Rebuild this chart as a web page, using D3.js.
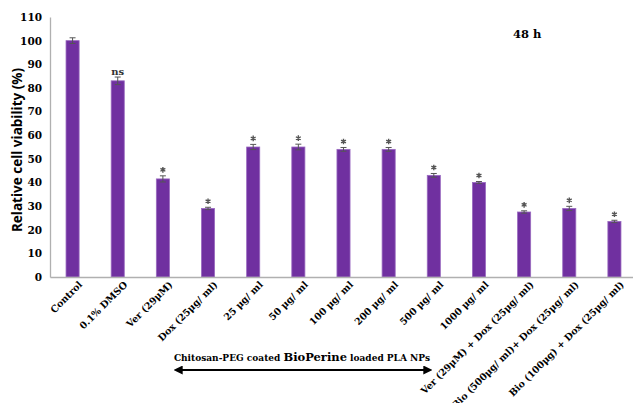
<!DOCTYPE html>
<html>
<head>
<meta charset="utf-8">
<script src="https://cdn.jsdelivr.net/npm/d3@7"></script>
<style>
  html, body { margin: 0; padding: 0; background: #fff; }
  svg { display: block; }
</style>
</head>
<body>
<svg id="chart" width="633" height="403"></svg>
<script>
// Treatment groups along the x axis
const categories = [
  "Control", "0.1% DMSO", "Ver (29μM)", "Dox (25μg/ ml)",
  "25 μg/ ml", "50 μg/ ml", "100 μg/ ml", "200  μg/ ml",
  "500 μg/ ml", "1000 μg/ ml",
  "Ver  (29μM)  +  Dox (25μg/ ml)",
  "Bio (500μg/ ml)+ Dox (25μg/ ml)",
  "Bio (100μg) + Dox (25μg/ ml)"
];
// Mean relative viability (%) at 48 h
const viability = [100, 83, 41.5, 29, 55, 55, 54, 54, 43, 40, 27.5, 29, 23.5];
// Standard deviations
const errors = [1.2, 1.6, 1.3, 0.5, 1.1, 1.2, 0.8, 0.8, 0.8, 0.4, 0.5, 0.9, 0.5];
// Significance markers
const marks = ["", "ns", "*", "*", "*", "*", "*", "*", "*", "*", "*", "*", "*"];
const yTicks = [0, 10, 20, 30, 40, 50, 60, 70, 80, 90, 100, 110];

const svg = d3.select("#chart");
const serif = "'DejaVu Serif', 'Liberation Serif', serif";

const x = d3.scaleBand().domain(categories).range([50, 637]).paddingInner(0.71).paddingOuter(0.355);
const y = d3.scaleLinear().domain([0, 110]).range([277, 17]);

// Bars
svg.append("g").selectAll("rect").data(viability).join("rect")
  .attr("x", (d, i) => x(categories[i]))
  .attr("y", d => y(d))
  .attr("width", x.bandwidth())
  .attr("height", d => y(0) - y(d))
  .attr("fill", "#7030a0")
  .attr("stroke", "#9a6ac0")
  .attr("stroke-width", 0.8);

// Error bars
const eg = svg.append("g").attr("stroke", "#555").attr("stroke-width", 1);
viability.forEach((v, i) => {
  const cx = x(categories[i]) + x.bandwidth() / 2;
  const lo = y(v - errors[i]), hi = y(v + errors[i]);
  eg.append("line").attr("x1", cx).attr("x2", cx).attr("y1", lo).attr("y2", hi);
  eg.append("line").attr("x1", cx - 3).attr("x2", cx + 3).attr("y1", hi).attr("y2", hi);
  eg.append("line").attr("x1", cx - 3).attr("x2", cx + 3).attr("y1", lo).attr("y2", lo);
});

// Significance labels: asterisks drawn as symbols, "ns" as text
const star = d3.symbol().type(d3.symbolAsterisk).size(22);
marks.forEach((m, i) => {
  const cx = x(categories[i]) + x.bandwidth() / 2;
  const top = y(viability[i] + errors[i]);
  if (m === "*") {
    svg.append("path").attr("d", star())
      .attr("transform", `translate(${cx},${top - 6})`)
      .attr("fill", "none").attr("stroke", "#555").attr("stroke-width", 1.4);
  } else if (m) {
    svg.append("text").attr("x", cx).attr("y", top - 2)
      .attr("text-anchor", "middle")
      .attr("font-family", serif).attr("font-weight", "bold").attr("font-size", 10)
      .attr("fill", "#333").text(m);
  }
});

// Y axis
const yAxis = d3.axisLeft(y).tickValues(yTicks).tickSize(0).tickPadding(8);
const yg = svg.append("g").attr("transform", "translate(50,0)").call(yAxis);
yg.select(".domain").attr("stroke", "#b0b0b0").attr("stroke-width", 1.3);
yg.selectAll("text").attr("font-family", serif).attr("font-weight", "bold")
  .attr("font-size", 10.5).attr("fill", "#000");

// X axis
const xAxis = d3.axisBottom(x).tickSize(0).tickPadding(6);
const xg = svg.append("g").attr("transform", "translate(0,277)").call(xAxis);
xg.select(".domain").attr("stroke", "#b0b0b0").attr("stroke-width", 1.3);
xg.selectAll("text")
  .attr("font-family", serif).attr("font-weight", "bold").attr("font-size", 9.5).attr("fill", "#000")
  .attr("text-anchor", "end")
  .attr("dy", "0.3em")
  .attr("transform", "translate(4,2) rotate(-45)");

// Y axis title
svg.append("text")
  .attr("transform", "translate(22,150) rotate(-90)")
  .attr("text-anchor", "middle")
  .attr("font-family", "'Open Sans', 'Liberation Sans', Arial, sans-serif")
  .attr("font-weight", "bold").attr("font-size", 13.5)
  .text("Relative cell viability (%)");

// Time point
svg.append("text").attr("x", 513).attr("y", 38)
  .attr("font-family", serif).attr("font-weight", "bold").attr("font-size", 11.5)
  .text("48 h");

// Nanoparticle group label
const grp = svg.append("text").attr("x", 302).attr("y", 361).attr("text-anchor", "middle")
  .attr("font-family", serif).attr("font-weight", "bold").attr("font-size", 9);
grp.append("tspan").text("Chitosan-PEG coated ");
grp.append("tspan").attr("font-size", 11.5).text("BioPerine");
grp.append("tspan").text(" loaded PLA NPs");

// Double-headed arrow spanning the NP concentrations
const defs = svg.append("defs");
["start", "end"].forEach(k => {
  defs.append("marker").attr("id", "arrow-" + k)
    .attr("viewBox", "0 0 10 10").attr("refX", 3).attr("refY", 5)
    .attr("markerWidth", 4.5).attr("markerHeight", 4.5)
    .attr("orient", k === "start" ? "auto-start-reverse" : "auto")
    .append("path").attr("d", "M0,0 L10,5 L0,10 z").attr("fill", "#000");
});
svg.append("line").attr("x1", 180).attr("x2", 426).attr("y1", 370).attr("y2", 370)
  .attr("stroke", "#000").attr("stroke-width", 2)
  .attr("marker-start", "url(#arrow-start)").attr("marker-end", "url(#arrow-end)");
</script>
</body>
</html>
